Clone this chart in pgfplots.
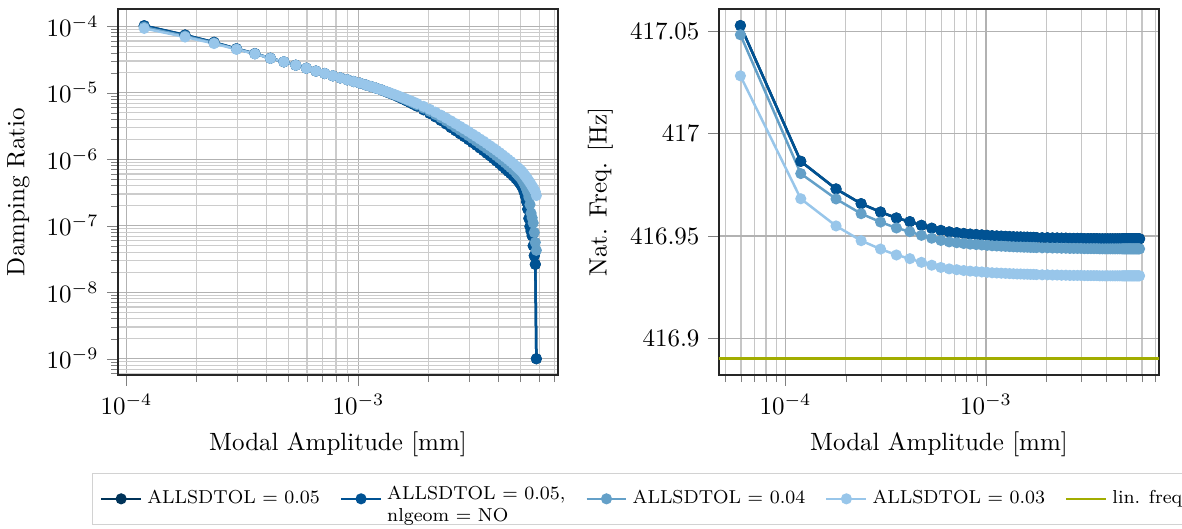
\documentclass[border=0pt]{standalone}
\usepackage{pgfplots}
\usepackage{pgfplotstable}
\pgfplotsset{compat=1.18}
\definecolor{cA}{HTML}{003359}
\definecolor{cB}{HTML}{005293}
\definecolor{cC}{HTML}{64A0C8}
\definecolor{cD}{HTML}{98C6EA}
\definecolor{cE}{HTML}{A2AD00}

\pgfplotstableread{
x z05 z04 z03 f05 f04 f03
5.96e-5 nan nan nan 417.0529 417.0484 417.0283
1.192e-4 1.02e-4 9.72e-5 9.29e-5 416.9865 416.9805 416.9682
1.788e-4 7.40e-5 7.14e-5 6.90e-5 416.9730 416.9681 416.9549
2.384e-4 5.75e-5 5.62e-5 5.50e-5 416.9658 416.9609 416.9477
2.98e-4 4.60e-5 4.55e-5 4.50e-5 416.9617 416.9568 416.9436
3.576e-4 3.89e-5 3.86e-5 3.85e-5 416.9588 416.9539 416.9407
4.172e-4 3.31e-5 3.30e-5 3.30e-5 416.9570 416.9521 416.9389
4.768e-4 2.92e-5 2.92e-5 2.92e-5 416.9552 416.9503 416.9371
5.364e-4 2.60e-5 2.60e-5 2.60e-5 416.9538 416.9489 416.9357
5.96e-4 2.34e-5 2.34e-5 2.34e-5 416.9527 416.9478 416.9346
6.556e-4 2.12e-5 2.12e-5 2.12e-5 416.9520 416.9471 416.9339
7.152e-4 1.95e-5 1.95e-5 1.95e-5 416.9516 416.9467 416.9335
7.748e-4 1.80e-5 1.80e-5 1.80e-5 416.9512 416.9463 416.9331
8.344e-4 1.675e-5 1.675e-5 1.675e-5 416.9509 416.9460 416.9328
8.94e-4 1.57e-5 1.57e-5 1.57e-5 416.9507 416.9458 416.9326
9.536e-4 1.476e-5 1.476e-5 1.476e-5 416.9505 416.9456 416.9324
1.0132e-3 1.396e-5 1.396e-5 1.396e-5 416.9503 416.9454 416.9322
1.0728e-3 1.315e-5 1.315e-5 1.315e-5 416.9501 416.9452 416.9320
1.1324e-3 1.242e-5 1.242e-5 1.242e-5 416.9500 416.9451 416.9319
1.192e-3 1.172e-5 1.172e-5 1.172e-5 416.9499 416.9450 416.9318
1.2516e-3 1.109e-5 1.109e-5 1.109e-5 416.9498 416.9449 416.9317
1.3112e-3 1.038e-5 1.042e-5 1.050e-5 416.9497 416.9448 416.9316
1.3708e-3 9.77e-6 9.84e-6 9.93e-6 416.9496 416.9447 416.9315
1.4304e-3 9.20e-6 9.31e-6 9.42e-6 416.9495 416.9446 416.9314
1.49e-3 8.63e-6 8.79e-6 8.93e-6 416.9495 416.9446 416.9314
1.5496e-3 8.09e-6 8.28e-6 8.47e-6 416.9494 416.9445 416.9313
1.6092e-3 7.59e-6 7.82e-6 8.04e-6 416.9494 416.9445 416.9313
1.6688e-3 7.13e-6 7.38e-6 7.64e-6 416.9493 416.9444 416.9312
1.7284e-3 6.70e-6 6.98e-6 7.26e-6 416.9493 416.9444 416.9312
1.788e-3 6.30e-6 6.59e-6 6.90e-6 416.9492 416.9443 416.9311
1.9072e-3 5.56e-6 5.89e-6 6.24e-6 416.9491 416.9442 416.9310
2.0264e-3 4.91e-6 5.26e-6 5.64e-6 416.9491 416.9442 416.9310
2.1456e-3 4.35e-6 4.71e-6 5.11e-6 416.9490 416.9441 416.9309
2.2648e-3 3.84e-6 4.21e-6 4.61e-6 416.9490 416.9441 416.9309
2.384e-3 3.40e-6 3.77e-6 4.18e-6 416.9489 416.9440 416.9308
2.5032e-3 3.00e-6 3.37e-6 3.78e-6 416.9489 416.9440 416.9308
2.6224e-3 2.69e-6 3.03e-6 3.43e-6 416.9488 416.9439 416.9307
2.7416e-3 2.42e-6 2.74e-6 3.12e-6 416.9488 416.9439 416.9307
2.8608e-3 2.19e-6 2.49e-6 2.85e-6 416.9488 416.9439 416.9307
2.98e-3 1.98e-6 2.26e-6 2.61e-6 416.9488 416.9439 416.9307
3.0992e-3 1.79e-6 2.06e-6 2.39e-6 416.9487 416.9438 416.9306
3.2184e-3 1.63e-6 1.88e-6 2.20e-6 416.9487 416.9438 416.9306
3.3376e-3 1.48e-6 1.72e-6 2.02e-6 416.9487 416.9438 416.9306
3.4568e-3 1.35e-6 1.58e-6 1.87e-6 416.9487 416.9438 416.9306
3.576e-3 1.23e-6 1.45e-6 1.72e-6 416.9487 416.9438 416.9306
3.6952e-3 1.127e-6 1.34e-6 1.59e-6 416.9486 416.9437 416.9305
3.8144e-3 1.028e-6 1.23e-6 1.47e-6 416.9486 416.9437 416.9305
3.9336e-3 9.42e-7 1.13e-6 1.36e-6 416.9486 416.9437 416.9305
4.0528e-3 8.61e-7 1.04e-6 1.26e-6 416.9486 416.9437 416.9305
4.172e-3 7.89e-7 9.62e-7 1.167e-6 416.9486 416.9437 416.9305
4.2912e-3 7.21e-7 8.83e-7 1.079e-6 416.9486 416.9437 416.9305
4.4104e-3 6.61e-7 8.13e-7 1.00e-6 416.9486 416.9437 416.9305
4.5296e-3 6.08e-7 7.48e-7 9.27e-7 416.9486 416.9437 416.9305
4.6488e-3 5.60e-7 6.89e-7 8.59e-7 416.9486 416.9437 416.9305
4.768e-3 5.13e-7 6.31e-7 7.94e-7 416.9486 416.9437 416.9305
4.8276e-3 4.90e-7 6.03e-7 7.64e-7 416.9486 416.9437 416.9305
4.8872e-3 4.68e-7 5.75e-7 7.35e-7 416.9486 416.9437 416.9305
4.9468e-3 4.42e-7 5.50e-7 7.06e-7 416.9486 416.9437 416.9305
5.0064e-3 4.17e-7 5.25e-7 6.79e-7 416.9486 416.9437 416.9305
5.066e-3 3.89e-7 4.90e-7 6.53e-7 416.9486 416.9437 416.9305
5.1256e-3 3.55e-7 4.57e-7 6.19e-7 416.9486 416.9437 416.9305
5.1852e-3 3.16e-7 4.27e-7 5.87e-7 416.9486 416.9437 416.9305
5.2448e-3 2.75e-7 3.89e-7 5.57e-7 416.9486 416.9437 416.9305
5.3044e-3 2.29e-7 3.55e-7 5.27e-7 416.9486 416.9437 416.9305
5.364e-3 1.78e-7 3.16e-7 4.99e-7 416.9486 416.9437 416.9305
5.4236e-3 1.29e-7 2.69e-7 4.71e-7 416.9486 416.9437 416.9305
5.4832e-3 9.77e-8 2.09e-7 4.45e-7 416.9486 416.9437 416.9305
5.5428e-3 8.32e-8 1.55e-7 4.19e-7 416.9486 416.9437 416.9305
5.6024e-3 7.08e-8 1.32e-7 3.94e-7 416.9486 416.9437 416.9305
5.662e-3 5.01e-8 1.10e-7 3.71e-7 416.9486 416.9437 416.9305
5.7216e-3 3.55e-8 7.94e-8 3.48e-7 416.9486 416.9437 416.9305
5.7812e-3 2.63e-8 5.62e-8 3.26e-7 416.9486 416.9437 416.9305
5.8408e-3 1.0e-9 4.27e-8 2.85e-7 416.9486 416.9437 416.9305
}\data

\begin{document}
\begin{tikzpicture}
\begin{axis}[at={(0,0)}, anchor=south west,
  scale only axis, width=176pt, height=146.4pt,
  xmode=log, ymode=log, grid=both,
  major grid style={gray!60, line width=0.5pt},
  minor grid style={gray!40, line width=0.45pt},
  tick align=outside, tick pos=left,
  axis line style={black!85, line width=0.6pt},
  xlabel={Modal Amplitude [mm]},
  xmin=9.19e-5, xmax=7.24e-3,
  ymin=5.7e-10, ymax=1.82e-4,
  ylabel={Damping Ratio},
]
\addplot[color=cA, mark=*, mark size=1.7pt, line width=1pt] table[x=x, y=z05] {\data};
\addplot[color=cB, mark=*, mark size=1.7pt, line width=1pt] table[x=x, y=z05] {\data};
\addplot[color=cC, mark=*, mark size=1.7pt, line width=1pt] table[x=x, y=z04] {\data};
\addplot[color=cD, mark=*, mark size=1.7pt, line width=1pt] table[x=x, y=z03] {\data};
\end{axis}

\begin{axis}[at={(240.4pt,0)}, anchor=south west,
  scale only axis, width=176pt, height=146.4pt,
  xmode=log, grid=both,
  major grid style={gray!60, line width=0.5pt},
  minor grid style={gray!45, line width=0.45pt},
  tick align=outside, tick pos=left,
  axis line style={black!85, line width=0.6pt},
  xlabel={Modal Amplitude [mm]},
  xmin=4.66e-5, xmax=7.3e-3,
  ymin=416.882, ymax=417.061,
  ytick={416.9,416.95,417,417.05},
  yticklabels={416.9,416.95,417,417.05},
  ylabel={Nat. Freq. [Hz]},
  legend columns=5,
  legend style={at={(-1.425,-0.2678)}, anchor=north west,
    draw=gray!35, font=\fontsize{7.5}{9}\selectfont, inner xsep=3pt, inner ysep=2pt,
    /tikz/every even column/.append style={column sep=6pt}},
  legend cell align=left,
  legend image code/.code={\draw[mark repeat=2,mark phase=2] plot coordinates {(0cm,0cm) (0.28cm,0cm) (0.56cm,0cm)};},
]
\addplot[color=cA, mark=*, mark size=1.7pt, line width=1pt] table[x=x, y=f05] {\data};
\addlegendentry{ALLSDTOL = 0.05}
\addplot[color=cB, mark=*, mark size=1.7pt, line width=1pt] table[x=x, y=f05] {\data};
\addlegendentry{\begin{tabular}{@{}l@{}}ALLSDTOL = 0.05,\\nlgeom = NO\end{tabular}}
\addplot[color=cC, mark=*, mark size=1.7pt, line width=1pt] table[x=x, y=f04] {\data};
\addlegendentry{ALLSDTOL = 0.04}
\addplot[color=cD, mark=*, mark size=1.7pt, line width=1pt] table[x=x, y=f03] {\data};
\addlegendentry{ALLSDTOL = 0.03}
\addplot[color=cE, line width=1pt, no marks] coordinates {(4e-5,416.890) (8e-3,416.890)};
\addlegendentry{lin. freq}
\end{axis}
\pgfresetboundingbox
\useasboundingbox (-47.2pt,-61.2pt) rectangle (425.6pt,150pt);
\end{tikzpicture}
\end{document}
